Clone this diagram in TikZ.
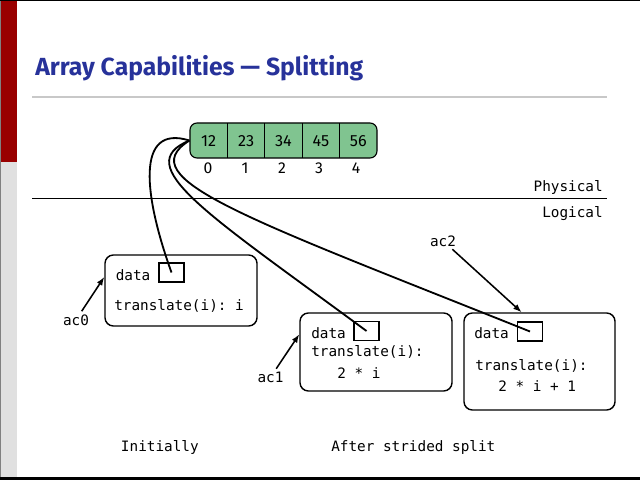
\documentclass[tikz,border=0pt]{standalone}
\usepackage{fontspec}
\setmainfont{Fira Sans}
\setmonofont{DejaVu Sans Mono}
\usetikzlibrary{arrows.meta}

\definecolor{slideblue}{HTML}{27329A}
\definecolor{slidered}{HTML}{990000}
\definecolor{cellgreen}{HTML}{80C490}
\definecolor{rulegray}{HTML}{C8C8C8}
\definecolor{bargray}{HTML}{E0E0E0}

\tikzset{
  acbox/.style={draw, line width=1pt, rounded corners=6pt},
  databox/.style={draw, line width=1pt, minimum width=0.625cm, minimum height=0.475cm, inner sep=0pt},
  code/.style={font=\ttfamily\fontsize{10.2}{12}\selectfont, inner sep=0pt, anchor=base west},
  varlbl/.style={code, inner sep=2pt},
  ptr/.style={line width=1.3pt},
  lbl/.style={line width=1.1pt, -{Latex[length=6pt, width=4.5pt]}},
}

\begin{document}
\begin{tikzpicture}[x=0.025cm, y=-0.025cm]
    \useasboundingbox (0,0) rectangle (640,480);
    \fill[slidered] (0,0) rectangle (17,162);
    \fill[bargray] (0,162) rectangle (17,479);
    \draw[gray, line width=0.8pt] (0.5,0) -- (0.5,479);
    \draw[line width=1pt] (0,0.5) -- (640,0.5);
    \draw[line width=1.5pt] (0,478.5) -- (640,478.5);

    \node[anchor=base west, inner sep=0pt, text=slideblue, font=\fontsize{17.6}{20}\selectfont\bfseries] (title) at (35,75.5) {Array Capabilities --- Splitting};
    \draw[rulegray, line width=1.5pt] (32,97) -- (607,97);

    \node[draw, fill=cellgreen, rounded corners=5pt, line width=0.8pt, minimum width=4.675cm, minimum height=0.875cm] (arr) at (283.5,140.5) {};
    \foreach \i in {1,...,4} \draw[line width=0.8pt] (190+37.4*\i,123) -- (190+37.4*\i,158);
    \foreach \v [count=\i from 0] in {12,23,34,45,56} {
        \node[font=\fontsize{11.5}{13}\selectfont] (v\i) at (208.7+37.4*\i,141) {\v};
        \node[font=\fontsize{11.2}{13}\selectfont] (n\i) at (208+37*\i,168.5) {\i};
    }

    \draw[line width=1.4pt] (32,198.5) -- (607,198.5);
    \node[code, anchor=base east] (phys) at (603,191.5) {Physical};
    \node[code, anchor=base east] (logi) at (603,217.5) {Logical};

    \node[acbox, minimum width=3.8cm, minimum height=1.775cm] (box0) at (181,290.5) {};
    \node[acbox, minimum width=3.8cm, minimum height=1.95cm] (box1) at (376,352) {};
    \node[acbox, minimum width=3.775cm, minimum height=2.425cm] (box2) at (539.5,361.5) {};
    \node[databox] (d0) at (171.5,272.5) {};
    \node[databox] (d1) at (366.5,331) {};
    \node[databox] (d2) at (530,331.5) {};

    \node[code] (data0) at (115.5,280) {data};
    \node[code] (tr0) at (114,310) {translate(i): i};
    \node[code] (data1) at (311,338.3) {data};
    \node[code] (tr1) at (311,356.7) {translate(i):};
    \node[code] (ix1) at (337,378.3) {2 * i};
    \node[code] (data2) at (474,338.3) {data};
    \node[code] (tr2) at (475,370) {translate(i):};
    \node[code] (ix2) at (498,391.7) {2 * i + 1};

    \node[varlbl] (ac0) at (60,325) {ac0};
    \node[varlbl] (ac1) at (254.5,382.3) {ac1};
    \node[varlbl] (ac2) at (427,246) {ac2};
    \draw[lbl] (ac0) -- (box0.170);
    \draw[lbl] (ac1) -- (box1.167);
    \draw[lbl] (ac2) -- (box2.110);

    \draw[ptr] (arr.west) .. controls +(-55,-17) and +(-27,-75) .. (d0.center);
    \draw[ptr] (arr.west) .. controls +(-60,25) and +(-160,-118) .. (d1.center);
    \draw[ptr] (arr.west) .. controls +(-60,38) and +(-285,-114) .. (d2.center);

    \node[code] (cap0) at (120.7,451.7) {Initially};
    \node[code] (cap1) at (331,451.7) {After strided split};
\end{tikzpicture}
\end{document}
